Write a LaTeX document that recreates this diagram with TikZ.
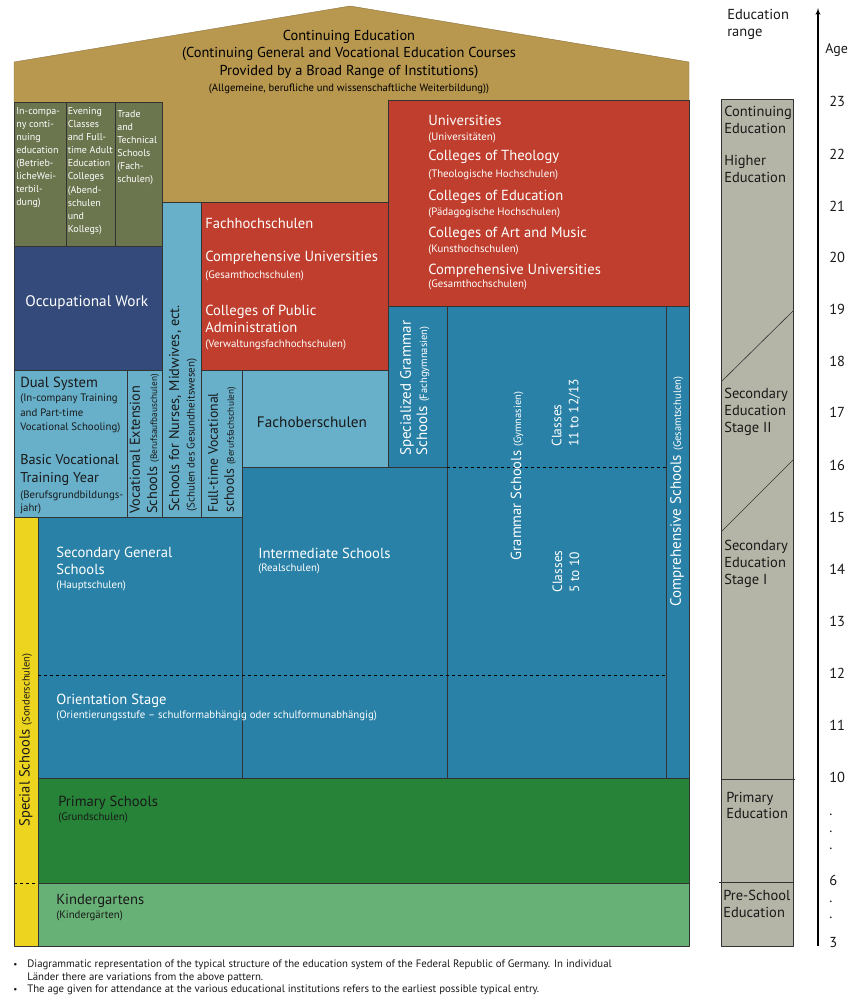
\documentclass[tikz,border=0pt]{standalone}
\usepackage{fontspec}
\setmainfont{PT Sans}
\usepackage{tikz}
\usetikzlibrary{arrows}

\definecolor{roofbrown}{RGB}{184,151,79}
\definecolor{olivebox}{RGB}{107,117,78}
\definecolor{navybox}{RGB}{52,74,122}
\definecolor{lightblue}{RGB}{104,176,202}
\definecolor{midblue}{RGB}{41,129,167}
\definecolor{unired}{RGB}{191,62,45}
\definecolor{darkgreen}{RGB}{38,131,56}
\definecolor{lightgreen}{RGB}{104,177,118}
\definecolor{specyellow}{RGB}{237,212,30}
\definecolor{rangegray}{RGB}{181,181,167}

\newcommand{\de}[1]{{\fontsize{10.5}{12}\selectfont #1}}
\newcommand{\des}[1]{{\fontsize{9.3}{12}\selectfont #1}}

\begin{document}
\begin{tikzpicture}[>=latex',line join=bevel,x=1pt,y=-1pt,
  blk/.style={draw=black!80,line width=0.6pt},
  wt/.style={text=white,inner sep=0pt,anchor=west,align=left},
  bt/.style={text=black!90,inner sep=0pt,anchor=west,align=left},
  big/.style={font=\fontsize{14.6}{17}\selectfont},
  sml/.style={font=\fontsize{10.8}{13}\selectfont},
  rng/.style={font=\fontsize{14.5}{16.7}\selectfont}]
\pgfsetlinewidth{0.6bp}
\useasboundingbox (0,0) rectangle (850,1001);
%% house
\fill[roofbrown] (14,62) -- (350,6) -- (689,62) -- (689,310) -- (14,310) -- cycle;
\draw[roofbrown!75!black,line width=0.4pt] (14,102) -- (14,62) -- (350,6) -- (689,62) -- (689,100);
\filldraw[fill=olivebox,blk] (14,102) rectangle (66,246);
\filldraw[fill=olivebox,blk] (66,102) rectangle (115,246);
\filldraw[fill=olivebox,blk] (115,102) rectangle (162,246);
\filldraw[fill=navybox,blk] (14,246) rectangle (162,370);
\filldraw[fill=lightblue,blk] (162,202) rectangle (201,517);
\filldraw[fill=unired,blk] (201,202) rectangle (388,370);
\filldraw[fill=unired,blk] (388,100) rectangle (689,306);
\filldraw[fill=lightblue,blk] (14,370) rectangle (127,517);
\filldraw[fill=lightblue,blk] (127,370) rectangle (162,517);
\filldraw[fill=lightblue,blk] (201,370) rectangle (242,517);
\filldraw[fill=lightblue,blk] (242,370) rectangle (388,467);
\filldraw[fill=midblue,blk] (388,306) rectangle (447,467);
\filldraw[fill=midblue,blk] (447,306) rectangle (666,778);
\filldraw[fill=midblue,blk] (666,306) rectangle (689,778);
\filldraw[fill=midblue,blk] (242,467) rectangle (447,778);
\filldraw[fill=midblue,blk] (38,517) rectangle (242,778);
\filldraw[fill=specyellow,blk] (14,517) rectangle (38,946);
\filldraw[fill=darkgreen,blk] (38,778) rectangle (689,883);
\filldraw[fill=lightgreen,blk] (38,883) rectangle (689,946);
\draw[dashed,line width=0.5pt] (447,467) -- (666,467);
\draw[dashed,line width=0.5pt] (38,675) -- (666,675);
\draw[dashed,line width=0.5pt] (14,883) -- (38,883);
%
\node (ce) at (349,54) [align=center,inner sep=0pt,font=\fontsize{14.4}{17.5}\selectfont] {Continuing Education\\(Continuing General and Vocational Education Courses\\Provided by a Broad Range of Institutions)};
\node (cede) at (349,89) [inner sep=0pt,font=\fontsize{10.6}{12}\selectfont] {(Allgemeine, berufliche und wissenschaftliche Weiterbildung))};
%% continuing education boxes
\node (incomp) at (16,157.5) [wt,font=\fontsize{10}{13}\selectfont] {In-compa-\\ny conti-\\nuing\\education\\(Betrieb-\\licheWei-\\terbil-\\dung)};
\node (evening) at (67.5,171) [wt,font=\fontsize{10}{13.1}\selectfont] {Evening\\Classes\\and Full-\\time Adult\\Education\\Colleges\\(Abend-\\schulen\\und\\Kollegs)};
\node (trade) at (117,147.5) [wt,font=\fontsize{10}{13}\selectfont] {Trade\\and\\Technical\\Schools\\(Fach-\\schulen)};
\node (occup) at (25,303) [wt,font=\fontsize{15.3}{17}\selectfont] {Occupational Work};
%% vocational
\node (dual) at (20,384) [bt,big] {Dual System};
\node (dualde) at (20,413.5) [bt,font=\fontsize{10.8}{14.5}\selectfont] {(In-company Training\\and Part-time\\Vocational Schooling)};
\node (basic) at (20,470) [bt,font=\fontsize{14.2}{18}\selectfont] {Basic Vocational\\Training Year};
\node (basicde) at (20,502) [bt,font=\fontsize{10.8}{13}\selectfont] {(Berufsgrundbildungs-\\jahr)};
\node (vocext) at (135,514) [bt,font=\fontsize{14.3}{17}\selectfont,rotate=90] {Vocational Extension};
\node (vocextde) at (153,514) [bt,font=\fontsize{14.3}{17}\selectfont,rotate=90] {Schools \des{(Berufsaufbauschulen)}};
\node (nurse) at (175,512) [bt,font=\fontsize{14.3}{17}\selectfont,rotate=90] {Schools for Nurses, Midwives, ect.};
\node (nursede) at (192,512) [bt,font=\fontsize{11}{13}\selectfont,rotate=90] {(Schulen des Gesundheitswesen)};
\node (fulltime) at (213,513) [bt,font=\fontsize{13.8}{17}\selectfont,rotate=90] {Full-time Vocational};
\node (fulltimede) at (230,513) [bt,font=\fontsize{13.8}{17}\selectfont,rotate=90] {schools \des{(Berufsfachschulen)}};
\node (fos) at (312,422) [text=black!90,inner sep=0pt,font=\fontsize{15.2}{17}\selectfont] {Fachoberschulen};
%% higher education
\node (fh) at (205,223) [wt,big] {Fachhochschulen};
\node (fhgu) at (205,258) [wt,big] {Comprehensive Universities};
\node (fhgude) at (205,276) [wt,sml] {(Gesamthochschulen)};
\node (fhadm) at (205,318.5) [wt,big] {Colleges of Public\\Administration};
\node (fhadmde) at (205,345) [wt,sml] {(Verwaltungsfachhochschulen)};
\node (uni) at (428,120) [wt,big] {Universities};
\node (unide) at (428,138) [wt,sml] {(Universitäten)};
\node (theo) at (428,157) [wt,big] {Colleges of Theology};
\node (theode) at (428,175) [wt,sml] {(Theologische Hochschulen)};
\node (paed) at (428,197) [wt,big] {Colleges of Education};
\node (paedde) at (428,213) [wt,sml] {(Pädagogische Hochschulen)};
\node (art) at (428,234) [wt,big] {Colleges of Art and Music};
\node (artde) at (428,250) [wt,sml] {(Kunsthochschulen)};
\node (gh) at (428,271) [wt,big] {Comprehensive Universities};
\node (ghde) at (428,285) [wt,sml] {(Gesamthochschulen)};
%% secondary
\node (fachgym) at (407,456) [wt,font=\fontsize{15}{17}\selectfont,rotate=90] {Specialized Grammar};
\node (fachgymde) at (423,456) [wt,font=\fontsize{15}{17}\selectfont,rotate=90] {Schools \de{(Fachgymnasien)}};
\node (gym) at (517,476) [text=white,inner sep=0pt,big,rotate=90] {Grammar Schools \de{(Gymnasien)}};
\node (cl11) at (566,447) [wt,font=\fontsize{13.5}{17}\selectfont,rotate=90] {Classes\\11 to 12/13};
\node (cl5) at (566,593) [wt,font=\fontsize{13.5}{17}\selectfont,rotate=90] {Classes\\5 to 10};
\node (gesamt) at (677,607) [wt,font=\fontsize{15}{17}\selectfont,rotate=90] {Comprehensive Schools \de{(Gesamtschulen)}};
\node (haupt) at (56,560.5) [wt,big] {Secondary General\\Schools};
\node (hauptde) at (56,586) [wt,sml] {(Hauptschulen)};
\node (real) at (258,553) [wt,big] {Intermediate Schools};
\node (realde) at (258,569) [wt,sml] {(Realschulen)};
\node (orient) at (56,701) [wt,big] {Orientation Stage};
\node (orientde) at (56,716) [wt,sml] {(Orientierungsstufe – schulformabhängig oder schulformunabhängig)};
\node (sonder) at (26,740) [text=black!90,inner sep=0pt,big,rotate=90] {Special Schools \de{(Sonderschulen)}};
%% primary
\node (grund) at (58,803) [bt,big] {Primary Schools};
\node (grundde) at (58,818) [bt,sml] {(Grundschulen)};
\node (kiga) at (56,901) [bt,big] {Kindergartens};
\node (kigade) at (56,916) [bt,sml] {(Kindergärten)};
%% notes
\node (b1) at (13,965) [bt,font=\fontsize{9}{10}\selectfont] {•};
\node (b2) at (13,990) [bt,font=\fontsize{9}{10}\selectfont] {•};
\node (note1) at (27,971) [bt,font=\fontsize{10.8}{12.5}\selectfont] {Diagrammatic representation of the typical structure of the education system of the Federal Republic of Germany.  In individual\\Länder there are variations from the above pattern.};
\node (note2) at (27,990) [bt,font=\fontsize{10.8}{12.5}\selectfont] {The age given for attendance at the various educational institutions refers to the earliest possible typical entry.};
%% education range
\node (range) at (727,24.5) [bt,rng] {Education\\range};
\filldraw[fill=rangegray,blk] (721,99) rectangle (793,946);
\draw[blk] (722,381) -- (793,311);
\draw[blk] (722,531) -- (793,460);
\draw[blk] (721,779) -- (795,779);
\draw[blk] (719,882) -- (793,882);
\node (rcont) at (724,120) [bt,rng] {Continuing\\Education};
\node (rhigh) at (724,169) [bt,rng] {Higher\\Education};
\node (rsec2) at (724,412) [bt,rng] {Secondary\\Education\\Stage II};
\node (rsec1) at (724,564) [bt,rng] {Secondary\\Education\\Stage I};
\node (rprim) at (726,805.5) [bt,rng] {Primary\\Education};
\node (rpre) at (723,904) [bt,rng] {Pre-School\\Education};
%% age axis
\coordinate (abot) at (818,946);
\coordinate (atop) at (818,8);
\draw[->,line width=1.3pt] (abot) -- (atop);
\node (agelbl) at (825,50) [bt,font=\fontsize{14}{16}\selectfont] {Age};
\foreach \age/\yy in {23/101,22/154,21/206,20/257,19/309,18/361,17/412,16/465,15/517,14/569,13/621,12/673,11/725,10/777,6/880,3/942}
  \node (age\age) at (829,\yy) [bt,rng] {\age};
\foreach \yy in {815,832,849,902,918}
  \node (dot\yy) at (829,\yy) [bt,rng] {.};
\end{tikzpicture}
\end{document}
